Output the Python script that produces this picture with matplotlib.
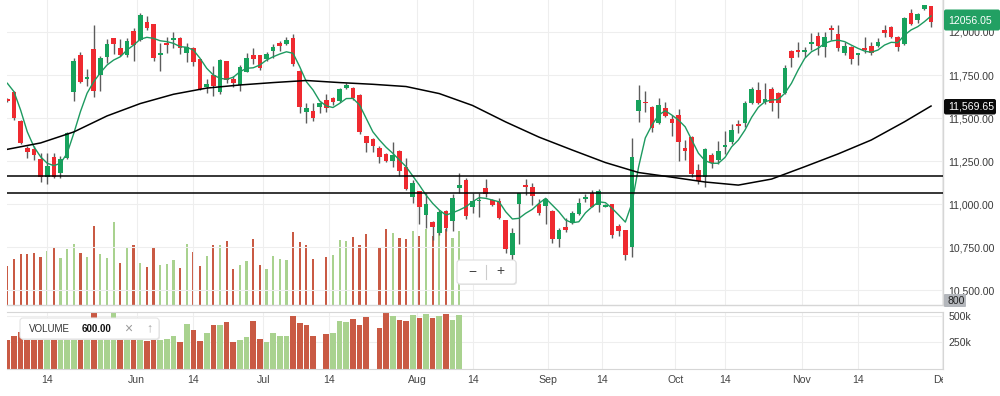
"""Daily index candles with fast/slow moving averages and volume, rebuilt from a screenshot."""

import matplotlib

matplotlib.use("Agg")
import matplotlib.pyplot as plt
import numpy as np
from matplotlib.lines import Line2D
from matplotlib.patches import FancyBboxPatch
from matplotlib.ticker import FuncFormatter
from matplotlib.transforms import Bbox, IdentityTransform

plt.rcParams["font.family"] = ["Liberation Sans", "DejaVu Sans"]

W, H = 1000, 396

# one candle per trading day, oldest first
OPEN = [
    11609, 11653, 11484, 11324, 11318, 11260, 11155, 11275, 11182, 11266,
    11653, 11866, 11728, 11901, 11750, 11856, 11963, 11905, 11866, 12006,
    11953, 12056, 12045, 11864, 11938, 11953, 11967, 11876, 11909, 11843,
    11678, 11750, 11653, 11831, 11727, 11692, 11769, 11866, 11866, 11841,
    11889, 11938, 11928, 11967, 11775, 11533, 11541, 11566, 11605, 11618,
    11601, 11676, 11676, 11634, 11395, 11376, 11324, 11291, 11250, 11310,
    11213, 11039, 11076, 10936, 10897, 10830, 10961, 10901, 11091, 11139,
    10984, 11017, 11095, 11026, 11019, 10907, 10703, 11000, 11110, 11101,
    10998, 10988, 10961, 10795, 10865, 10891, 10940, 11029, 11066, 10994,
    10984, 11000, 10872, 10849, 10752, 11542, 11595, 11566, 11469, 11560,
    11494, 11517, 11327, 11391, 11198, 11159, 11285, 11256, 11333, 11362,
    11465, 11473, 11585, 11663, 11595, 11667, 11647, 11647, 11889, 11895,
    11882, 11930, 11977, 11915, 12021, 11988, 11880, 11915, 11866, 11909,
    11919, 11920, 12012, 12031, 11969, 11928, 12112, 12070, 12132, 12151,
]
HIGH = [
    11616, 11659, 11486, 11339, 11339, 11298, 11295, 11295, 11279, 11420,
    11847, 11885, 11783, 12041, 11860, 11958, 11965, 11958, 11967, 12021,
    12109, 12095, 12047, 11934, 11973, 12002, 11970, 11934, 11911, 11845,
    11727, 11802, 11841, 11833, 11744, 11808, 11876, 11909, 11868, 11882,
    11928, 11949, 11969, 11987, 11777, 11589, 11589, 11595, 11638, 11624,
    11673, 11705, 11678, 11638, 11397, 11382, 11337, 11298, 11362, 11312,
    11266, 11139, 11078, 11066, 10899, 10965, 10965, 11056, 11178, 11149,
    11062, 11066, 11144, 11032, 11033, 10909, 10859, 11066, 11144, 11124,
    11027, 11037, 10963, 10859, 10917, 10959, 11033, 11058, 11081, 11085,
    11003, 11002, 10884, 10851, 11385, 11692, 11657, 11568, 11615, 11595,
    11517, 11552, 11372, 11393, 11231, 11324, 11295, 11366, 11424, 11463,
    11488, 11601, 11678, 11711, 11702, 11678, 11649, 11808, 11895, 11944,
    11915, 11992, 12002, 12002, 12041, 12041, 11944, 11917, 11880, 11973,
    11944, 11963, 12041, 12033, 11977, 12089, 12132, 12109, 12159, 12153,
]
LOW = [
    11593, 11488, 11349, 11266, 11256, 11130, 11116, 11149, 11149, 11260,
    11599, 11702, 11686, 11620, 11659, 11818, 11872, 11860, 11856, 11833,
    11948, 12012, 11833, 11775, 11876, 11909, 11870, 11824, 11804, 11663,
    11647, 11630, 11638, 11705, 11678, 11659, 11766, 11814, 11779, 11831,
    11847, 11891, 11924, 11802, 11527, 11469, 11484, 11527, 11537, 11576,
    11595, 11667, 11605, 11407, 11304, 11304, 11237, 11242, 11217, 11164,
    11080, 11008, 10884, 10859, 10791, 10820, 10845, 10845, 11062, 10911,
    10946, 10926, 11042, 10988, 10911, 10717, 10659, 10766, 11052, 10994,
    10936, 10884, 10775, 10748, 10839, 10884, 10936, 11013, 10981, 10952,
    10981, 10801, 10814, 10674, 10694, 11478, 11537, 11420, 11463, 11504,
    11395, 11252, 11256, 11159, 11116, 11097, 11211, 11233, 11291, 11349,
    11411, 11446, 11581, 11581, 11581, 11541, 11498, 11639, 11798, 11856,
    11856, 11895, 11866, 11856, 11953, 11891, 11866, 11814, 11808, 11876,
    11866, 11915, 11973, 11963, 11891, 11924, 12041, 12054, 12128, 12027,
]
CLOSE = [
    11601, 11498, 11356, 11302, 11283, 11155, 11223, 11159, 11262, 11411,
    11831, 11711, 11738, 11659, 11847, 11928, 11930, 11866, 11946, 11924,
    12099, 12025, 11847, 11876, 11926, 11967, 11909, 11915, 11827, 11669,
    11696, 11688, 11837, 11721, 11702, 11795, 11851, 11841, 11789, 11870,
    11915, 11920, 11953, 11812, 11562, 11560, 11498, 11585, 11556, 11591,
    11667, 11692, 11614, 11420, 11353, 11337, 11275, 11252, 11285, 11192,
    11085, 11120, 10984, 11000, 10868, 10952, 10859, 11033, 11109, 10930,
    11017, 11026, 11056, 10997, 10917, 10738, 10830, 11062, 11097, 11048,
    10949, 11027, 10795, 10849, 10849, 10949, 11004, 11039, 10984, 11077,
    10993, 10820, 10843, 10703, 11275, 11605, 11585, 11440, 11576, 11512,
    11473, 11362, 11310, 11173, 11135, 11318, 11237, 11308, 11343, 11430,
    11455, 11589, 11667, 11585, 11609, 11585, 11589, 11789, 11847, 11882,
    11895, 11944, 11920, 11973, 12012, 11905, 11919, 11841, 11876, 11895,
    11880, 11944, 11996, 11973, 11915, 12080, 12045, 12103, 12157, 12056.05,
]

# thousands of shares; the feed stops early, gaps are missing days
VOLUME_K = [
    271, 315, 350, 350, 361, 331, 373, 389, 324, 384,
    421, 357, 331, 545, 350, 320, 570, 290, 393, 412,
    290, 262, 389, 274, 281, 308, 255, 421, 366, 267,
    338, 416, 416, 439, 251, 274, 304, 451, 278, 251,
    338, 315, 308, 501, 432, 416, 315, np.nan, 331, 343,
    449, 439, 467, 416, 488, np.nan, 389, 524, 497, 458,
    451, 508, 476, 520, 478, 497, 520, 458, 508,
]

MA_FAST = [
    11702, 11653, 11546, 11420, 11333, 11275, 11237, 11223, 11237, 11295,
    11411, 11537, 11644, 11711, 11763, 11808, 11837, 11856, 11895, 11924,
    11958, 11969, 11963, 11949, 11944, 11934, 11915, 11911, 11895, 11847,
    11789, 11750, 11731, 11725, 11737, 11769, 11789, 11792, 11808, 11837,
    11856, 11872, 11885, 11876, 11798, 11711, 11663, 11599, 11570, 11561,
    11585, 11613, 11614, 11576, 11498, 11420, 11372, 11330, 11295, 11256,
    11217, 11163, 11110, 11052, 11004, 10965, 10936, 10949, 10965, 10984,
    11013, 11037, 11033, 11023, 11013, 10955, 10913, 10917, 10946, 10969,
    11004, 11033, 10994, 10955, 10907, 10891, 10897, 10949, 10984, 11013,
    11008, 10975, 10936, 10895, 11006, 11217, 11384, 11459, 11517, 11542,
    11517, 11488, 11449, 11372, 11295, 11252, 11237, 11237, 11271, 11333,
    11372, 11430, 11504, 11562, 11595, 11605, 11607, 11644, 11702, 11779,
    11847, 11885, 11905, 11934, 11948, 11953, 11944, 11924, 11905, 11889,
    11882, 11895, 11924, 11940, 11938, 11982, 12012, 12031, 12060, 12093,
]

MA_SLOW_IDX = [0, 5, 10, 15, 20, 25, 30, 35, 40, 45, 50, 55, 60, 65, 70,
               75, 80, 85, 90, 95, 100, 105, 110, 115, 120, 125, 130, 135, 139]
MA_SLOW = [11318, 11355, 11419, 11512, 11584, 11638, 11674, 11692, 11706, 11718,
           11706, 11696, 11683, 11642, 11573, 11477, 11389, 11314, 11241, 11183,
           11156, 11128, 11110, 11145, 11217, 11291, 11372, 11478, 11569.65]

LEVELS = [11160, 11064]
PRICE_TICKS = [10500, 10750, 11000, 11250, 11500, 11750, 12000]
VOL_TICKS = [250, 500]
DATE_TICK_POS = [5.95, 19.45, 27.99, 38.53, 48.46, 61.65, 70.04,
                 81.4, 89.5, 100.5, 108.0, 119.55, 128.05, 140.66]
DATE_TICK_LABELS = ["14", "Jun", "14", "Jul", "14", "Aug", "14",
                    "Sep", "14", "Oct", "14", "Nov", "14", "Dec"]

GREEN = "#17a25c"
RED = "#ef2a30"
WICK = "#5c5c5c"
VOL_GREEN = "#a9d28f"
VOL_RED = "#c95a44"
GRID = "#eeeeee"
EDGE = "#d6d6d6"
TXT = "#3a3a3a"
FS = 7.6


def px_rect(x0, y0, x1, y1):
    """Figure-fraction rect from screenshot pixel edges, y counted from the top."""
    return [x0 / W, 1 - y1 / H, (x1 - x0) / W, (y1 - y0) / H]


def add_box(fig, x0, y0, x1, y1, fc, ec="none", radius=2.0, zorder=5):
    box = FancyBboxPatch(
        (x0, H - y1), x1 - x0, y1 - y0,
        boxstyle=f"round,pad=0,rounding_size={radius}",
        transform=IdentityTransform(), fc=fc, ec=ec, lw=0.8, zorder=zorder,
    )
    fig.add_artist(box)


def add_label(fig, x, y, s, **kw):
    kw.setdefault("fontsize", FS)
    kw.setdefault("va", "center")
    kw.setdefault("zorder", 6)
    fig.text(x / W, 1 - y / H, s, **kw)


fig = plt.figure(figsize=(W / 100, H / 100), dpi=100)
fig.patch.set_facecolor("white")

main_rect = px_rect(7, 0, 943, 305)
ax_ov = fig.add_axes(main_rect)
ax = fig.add_axes(main_rect)
axv = fig.add_axes(px_rect(7, 312, 943, 369))
ax.patch.set_visible(False)

xlim = (-0.05, 140.8)
idx = np.arange(len(OPEN))
o, h, l, c = (np.asarray(a, dtype=float) for a in (OPEN, HIGH, LOW, CLOSE))

# candles
up = c >= o
ax.vlines(idx, l, h, color=WICK, lw=1.0, zorder=2)
ax.bar(idx, np.maximum(np.abs(c - o), 3), bottom=np.minimum(o, c), width=0.7,
       color=np.where(up, GREEN, RED), zorder=3)

ax.plot(idx, MA_FAST, color="#1d9a60", lw=1.0, zorder=4)
ax.plot(MA_SLOW_IDX, MA_SLOW, color="black", lw=1.1, zorder=4)
for lvl in LEVELS:
    ax.axhline(lvl, color="black", lw=1.1, zorder=4)

# volume, coloured by close against the previous close
vol = np.asarray(VOLUME_K, dtype=float)
n_vol = len(vol)
prev_close = np.concatenate([[o[0]], c[:-1]])
vol_col = np.where((c >= prev_close)[:n_vol], VOL_GREEN, VOL_RED)
ok = ~np.isnan(vol)
ax_ov.bar(idx[:n_vol][ok], vol[ok], width=0.33, color=vol_col[ok])
axv.bar(idx[:n_vol][ok], vol[ok], width=0.85, color=vol_col[ok], zorder=2)

# axes setup
ax.set_xlim(*xlim)
ax.set_ylim(10413, 12186)
ax_ov.set_xlim(*xlim)
ax_ov.set_ylim(0, 2098)
ax_ov.set_axis_off()

ax.yaxis.tick_right()
ax.set_yticks(PRICE_TICKS)
ax.yaxis.set_major_formatter(FuncFormatter(lambda v, _: f"{v:,.2f}"))
ax.set_xticks(DATE_TICK_POS)
ax.tick_params(axis="y", length=0, pad=3.8, labelsize=FS, labelcolor=TXT)
ax.tick_params(axis="x", length=0, labelbottom=False)
ax.grid(color=GRID, lw=0.8)
ax.set_axisbelow(True)
for side in ("top", "left"):
    ax.spines[side].set_visible(False)
for side in ("right", "bottom"):
    ax.spines[side].set_color(EDGE)
    ax.spines[side].set_linewidth(1.0)

axv.set_xlim(*xlim)
axv.set_ylim(0, 537)
axv.yaxis.tick_right()
axv.set_yticks(VOL_TICKS)
axv.set_yticklabels([f"{v}k" for v in VOL_TICKS])
axv.set_xticks(DATE_TICK_POS)
axv.set_xticklabels(DATE_TICK_LABELS)
axv.tick_params(axis="y", length=0, pad=3.8, labelsize=FS, labelcolor=TXT)
axv.tick_params(axis="x", length=0, pad=4.5, labelsize=FS, labelcolor="#444")
axv.grid(color=GRID, lw=0.8)
axv.set_axisbelow(True)
axv.spines["left"].set_visible(False)
for side in ("right", "top", "bottom"):
    axv.spines[side].set_color(EDGE)

# the last month label is cut by the plot edge in the original
last_tick = axv.xaxis.get_major_ticks()[-1].label1
last_tick.set_clip_on(True)
last_tick.set_clip_box(Bbox.from_extents(0, 0, 943, H))

# price tags on the right edge
add_box(fig, 944, 9.5, 1000, 30.5, "#22a063")
add_label(fig, 948, 20.5, f"{CLOSE[-1]:.2f}", color="white")
add_box(fig, 944, 99, 996, 114.5, "#0a0a0a")
add_label(fig, 948, 106.8, f"{MA_SLOW[-1]:,.2f}", color="white")
add_box(fig, 944, 294, 966, 307, "#b4b7bc", radius=1.0)
add_label(fig, 947, 300.5, "800", color="#222")

# zoom control
add_box(fig, 458, 261, 517, 285, "#e8e8e8", radius=3)
add_box(fig, 457, 260, 516, 284, "white", ec="#dddddd", radius=3, zorder=5.5)
add_label(fig, 472, 271.5, "\u2212", fontsize=10, color="#444", ha="center")
add_label(fig, 500, 271.5, "+", fontsize=10, color="#444", ha="center")
fig.add_artist(Line2D([486, 486], [H - 265, H - 279], transform=IdentityTransform(),
                      color="#cccccc", lw=0.8, zorder=6))

# volume legend
add_box(fig, 21, 319, 160, 340, "#e6e6e6", radius=3)
add_box(fig, 20, 318, 159, 339, "white", ec="#e4e4e4", radius=3, zorder=5.5)
add_label(fig, 29, 328.5, "VOLUME", fontsize=7, color="#333")
add_label(fig, 82, 328.5, "600.00", fontsize=7, color="#111", fontweight="bold")
add_label(fig, 128, 328.5, "\u00d7", fontsize=10, color="#9a9a9a", ha="center")
add_label(fig, 149, 328.5, "\u2191", fontsize=9, color="#aaaaaa", ha="center")

fig.savefig("out.png", dpi=100)
plt.close(fig)
